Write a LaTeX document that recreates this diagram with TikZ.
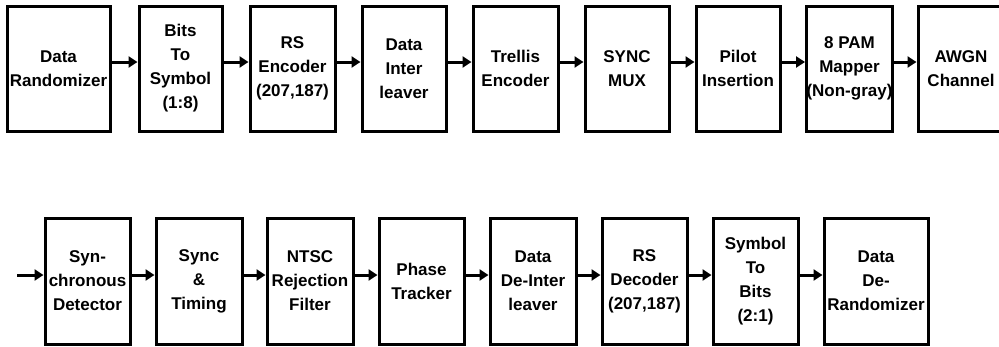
\documentclass[tikz,border=0pt]{standalone}
\usepackage{fontspec}
\setmainfont{Liberation Sans}
\usetikzlibrary{arrows.meta}
\tikzset{
  blk/.style={draw=black, line width=3pt, fill=white, inner sep=0pt, align=center,
    minimum height=125pt, font=\fontsize{17}{24}\selectfont\bfseries},
  conn/.style={line width=3pt, -{Triangle[length=9pt,width=11pt]}},
}
\begin{document}
\begin{tikzpicture}[x=1pt,y=-1pt]
\clip (0,0) rectangle (999,346);
\fill[white] (0,0) rectangle (999,346);
% top row
\node[blk, minimum width=103pt] (t1) at (58.5,68.5) {Data\\Randomizer};
\node[blk, minimum width=83pt] (t2) at (180.5,68.5) {Bits\\To\\Symbol\\(1:8)};
\node[blk, minimum width=85pt] (t3) at (292.5,68.5) {RS\\Encoder\\(207,187)};
\node[blk, minimum width=84pt] (t4) at (404,68.5) {Data\\Inter\\leaver};
\node[blk, minimum width=85pt] (t5) at (515.5,68.5) {Trellis\\Encoder};
\node[blk, minimum width=84pt] (t6) at (627,68.5) {SYNC\\MUX};
\node[blk, minimum width=84pt] (t7) at (738,68.5) {Pilot\\Insertion};
\node[blk, minimum width=85pt] (t8) at (849.5,68.5) {8 PAM\\Mapper\\(Non-gray)};
\node[blk, minimum width=86pt] (t9) at (961,68.5) {AWGN\\Channel};
\foreach \a/\b in {t1/t2,t2/t3,t3/t4,t4/t5,t5/t6,t6/t7,t7/t8,t8/t9}
  \draw[conn] ([yshift=6.5pt]\a.east) -- ([yshift=6.5pt]\b.west);
% bottom row
\node[blk, minimum width=85pt, minimum height=126pt] (b1) at (87.5,281) {Syn-\\chronous\\Detector};
\node[blk, minimum width=86pt, minimum height=126pt] (b2) at (199,281) {Sync\\\&\\Timing};
\node[blk, minimum width=86pt, minimum height=126pt] (b3) at (310,281) {NTSC\\Rejection\\Filter};
\node[blk, minimum width=85pt, minimum height=126pt] (b4) at (421.5,281) {Phase\\Tracker};
\node[blk, minimum width=86pt, minimum height=126pt] (b5) at (533,281) {Data\\De-Inter\\leaver};
\node[blk, minimum width=85pt, minimum height=126pt] (b6) at (644.5,281) {RS\\Decoder\\(207,187)};
\node[blk, minimum width=85pt, minimum height=126pt] (b7) at (755.5,281) {Symbol\\To\\Bits\\(2:1)};
\node[blk, minimum width=104pt, minimum height=126pt] (b8) at (876,281) {Data\\De-\\Randomizer};
\coordinate (in) at (17,275);
\draw[conn] (in) -- (b1.west |- in);
\foreach \a/\b in {b1/b2,b2/b3,b3/b4,b4/b5,b5/b6,b6/b7,b7/b8}
  \draw[conn] ([yshift=6pt]\a.east) -- ([yshift=6pt]\b.west);
\end{tikzpicture}
\end{document}
